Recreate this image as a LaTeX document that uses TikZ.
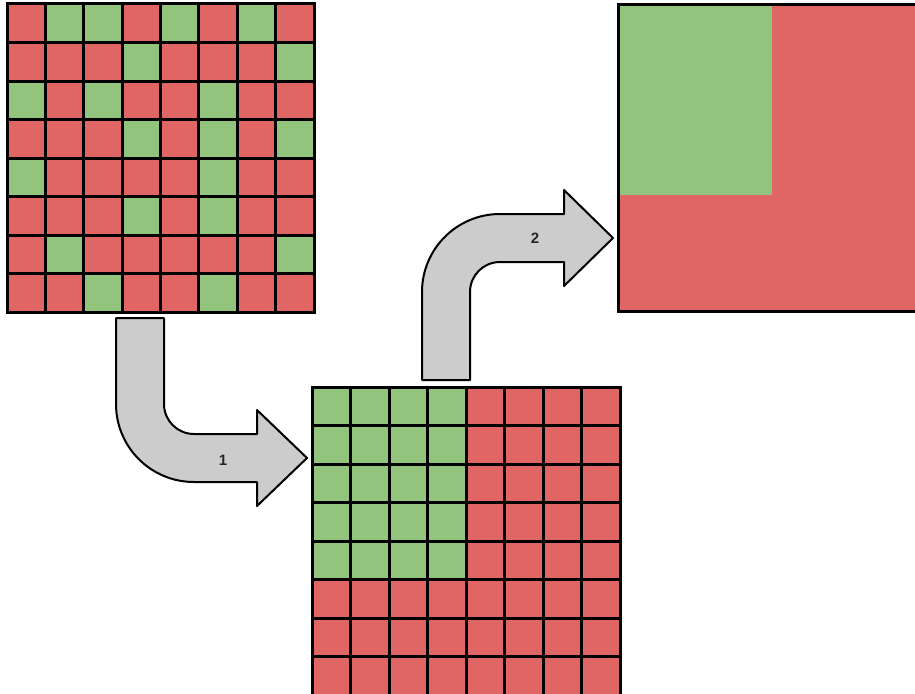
\documentclass[tikz,border=0pt]{standalone}
\usepackage{fontspec}
\setsansfont{Liberation Sans}
\definecolor{cred}{HTML}{E06666}
\definecolor{cgreen}{HTML}{93C47D}
\definecolor{cgray}{HTML}{CCCCCC}
\begin{document}
\begin{tikzpicture}[x=1pt,y=-1pt,
  gridline/.style={line width=3pt, black, line cap=rect},
  arrowshape/.style={fill=cgray, draw=black, line width=2pt, line join=round},
  lbl/.style={font=\sffamily\bfseries\fontsize{15}{17}\selectfont, text=black!85, inner sep=0pt}]
\useasboundingbox (0,0) rectangle (915,693);
\clip (0,0) rectangle (915,693);

% top-left scrambled grid
\begin{scope}[shift={(7,4)}, x=38.375pt, y=-38.5pt]
  \fill[cred] (0,0) rectangle (8,8);
  \foreach \r/\c in {1/2,1/3,1/5,1/7, 2/4,2/8, 3/1,3/3,3/6, 4/4,4/6,4/8, 5/1,5/6, 6/4,6/6, 7/2,7/8, 8/3,8/6}
    \fill[cgreen] (\c-1,\r-1) rectangle (\c,\r);
  \foreach \i in {0,...,8} {
    \draw[gridline] (\i,0) -- (\i,8);
    \draw[gridline] (0,\i) -- (8,\i);
  }
\end{scope}

% bottom sorted grid
\begin{scope}[shift={(312,387)}, x=38.5pt, y=-38.5pt]
  \fill[cred] (0,0) rectangle (8,8);
  \fill[cgreen] (0,0) rectangle (4,5);
  \foreach \i in {0,...,8} {
    \draw[gridline] (\i,0) -- (\i,8);
    \draw[gridline] (0,\i) -- (8,\i);
  }
\end{scope}

% top-right result
\fill[cred] (618,5) rectangle (926,311);
\fill[cgreen] (618,5) rectangle (772,195);
\draw[gridline] (618,5) rectangle (926,311);

% arrow 1
\draw[arrowshape] (116,318) -- (164,318) -- (164,404)
  .. controls (164,420.6) and (177.4,434) .. (194,434)
  -- (257,434) -- (257,410) -- (307,458) -- (257,506) -- (257,482) -- (194,482)
  .. controls (150.9,482) and (116,447.1) .. (116,404) -- cycle;
\node[lbl] (l1) at (223,460) {1};

% arrow 2
\draw[arrowshape] (422,380) -- (470,380) -- (470,292)
  .. controls (470,275.4) and (483.4,262) .. (500,262)
  -- (564,262) -- (564,286) -- (613,238) -- (564,190) -- (564,214) -- (500,214)
  .. controls (456.9,214) and (422,248.9) .. (422,292) -- cycle;
\node[lbl] (l2) at (535,238) {2};
\end{tikzpicture}
\end{document}
